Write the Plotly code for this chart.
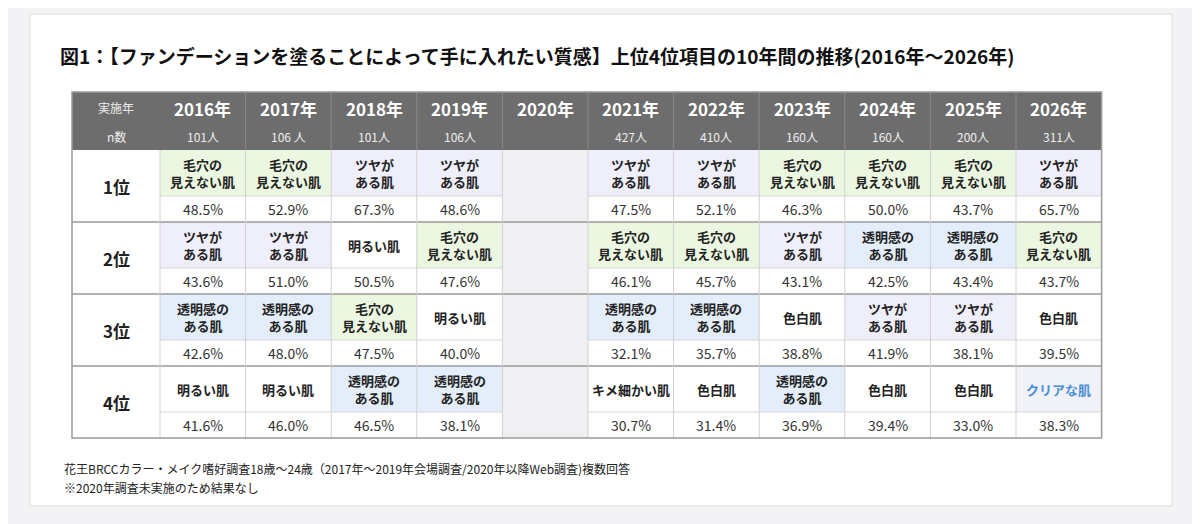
import plotly.graph_objects as go

FONT = "Noto Sans CJK JP"

years = ["2016年", "2017年", "2018年", "2019年", "2020年", "2021年",
         "2022年", "2023年", "2024年", "2025年", "2026年"]
n_counts = ["101人", "106 人", "101人", "106人", "", "427人",
            "410人", "160人", "160人", "200人", "311人"]
ranks = ["1位", "2位", "3位", "4位"]

# items per rank (None for 2020: no survey)
rank1_items = ["毛穴の<br>見えない肌", "毛穴の<br>見えない肌", "ツヤが<br>ある肌", "ツヤが<br>ある肌", None,
               "ツヤが<br>ある肌", "ツヤが<br>ある肌", "毛穴の<br>見えない肌", "毛穴の<br>見えない肌",
               "毛穴の<br>見えない肌", "ツヤが<br>ある肌"]
rank1_pct = ["48.5%", "52.9%", "67.3%", "48.6%", None, "47.5%", "52.1%", "46.3%", "50.0%", "43.7%", "65.7%"]
rank2_items = ["ツヤが<br>ある肌", "ツヤが<br>ある肌", "明るい肌", "毛穴の<br>見えない肌", None,
               "毛穴の<br>見えない肌", "毛穴の<br>見えない肌", "ツヤが<br>ある肌", "透明感の<br>ある肌",
               "透明感の<br>ある肌", "毛穴の<br>見えない肌"]
rank2_pct = ["43.6%", "51.0%", "50.5%", "47.6%", None, "46.1%", "45.7%", "43.1%", "42.5%", "43.4%", "43.7%"]
rank3_items = ["透明感の<br>ある肌", "透明感の<br>ある肌", "毛穴の<br>見えない肌", "明るい肌", None,
               "透明感の<br>ある肌", "透明感の<br>ある肌", "色白肌", "ツヤが<br>ある肌",
               "ツヤが<br>ある肌", "色白肌"]
rank3_pct = ["42.6%", "48.0%", "47.5%", "40.0%", None, "32.1%", "35.7%", "38.8%", "41.9%", "38.1%", "39.5%"]
rank4_items = ["明るい肌", "明るい肌", "透明感の<br>ある肌", "透明感の<br>ある肌", None,
               "キメ細かい肌", "色白肌", "透明感の<br>ある肌", "色白肌", "色白肌", "クリアな肌"]
rank4_pct = ["41.6%", "46.0%", "46.5%", "38.1%", None, "30.7%", "31.4%", "36.9%", "39.4%", "33.0%", "38.3%"]

items = [rank1_items, rank2_items, rank3_items, rank4_items]
pcts = [rank1_pct, rank2_pct, rank3_pct, rank4_pct]

# styling
FILL = {"毛穴": "#ebf7e1", "ツヤ": "#efeefb", "透明": "#e4eefb", "クリ": "#f1f1f8"}
HEAD = "#6d6d6d"
LINE = "#9a9a9a"

X0, LW, CW = 72, 88, 85.6
Y_HEAD, Y_N, Y_BODY = 92, 122, 150
RH, LH = 72, 46

fig = go.Figure()
shapes, ann = [], []


def rect(x0, y0, x1, y1, fill, line=None, lw=0):
    shapes.append(dict(type="rect", xref="x", yref="y", x0=x0, x1=x1, y0=y0, y1=y1,
                       fillcolor=fill, line=dict(color=line or fill, width=lw), layer="below"))


def text(x, y, s, size, color="#222", bold=False, xanchor="center"):
    ann.append(dict(x=x, y=y, xref="x", yref="y", text=f"<b>{s}</b>" if bold else s,
                    showarrow=False, xanchor=xanchor, yanchor="middle",
                    font=dict(family=FONT, size=size, color=color)))


# card
rect(30, 14, 1172, 506, "white", "#dddddd", 1)

ncols = len(years)
x_end = X0 + LW + CW * ncols
y_end = Y_BODY + RH * len(ranks)

# header
rect(X0, Y_HEAD, x_end, Y_BODY, HEAD)
text(X0 + LW / 2, (Y_HEAD + Y_N) / 2, "実施年", 12, "#eeeeee")
text(X0 + LW / 2, (Y_N + Y_BODY) / 2, "n数", 12, "#eeeeee")
for i, (yr, n) in enumerate(zip(years, n_counts)):
    cx = X0 + LW + CW * (i + 0.5)
    text(cx, (Y_HEAD + Y_N) / 2 + 1, yr, 17, "white", True)
    text(cx, (Y_N + Y_BODY) / 2, n, 12, "#eeeeee")
    if i > 0:
        shapes.append(dict(type="line", x0=X0 + LW + CW * i, x1=X0 + LW + CW * i,
                           y0=Y_HEAD, y1=Y_BODY, line=dict(color="#8a8a8a", width=1)))

# body
rect(X0, Y_BODY, x_end, y_end, "white")
for r, rk in enumerate(ranks):
    y0 = Y_BODY + RH * r
    text(X0 + LW / 2, y0 + RH / 2, rk, 17, "#222", True)
    for i in range(ncols):
        cx0 = X0 + LW + CW * i
        it = items[r][i]
        if it is None:
            rect(cx0, y0, cx0 + CW, y0 + RH, "#f0f0f2")
            continue
        fill = FILL.get(it[:2], "white")
        rect(cx0, y0, cx0 + CW, y0 + LH, fill)
        color = "#4b8fd6" if it.startswith("クリ") else "#222"
        text(cx0 + CW / 2, y0 + LH / 2, it, 13, color, True)
        text(cx0 + CW / 2, y0 + LH + (RH - LH) / 2, pcts[r][i], 14, "#333")
        shapes.append(dict(type="line", x0=cx0, x1=cx0 + CW, y0=y0 + LH, y1=y0 + LH,
                           line=dict(color="#d6d6d6", width=1)))
    if r > 0:
        shapes.append(dict(type="line", x0=X0, x1=x_end, y0=y0, y1=y0,
                           line=dict(color=LINE, width=1.5)))
for i in range(ncols + 1):
    xx = X0 + LW + CW * i
    shapes.append(dict(type="line", x0=xx, x1=xx, y0=Y_BODY, y1=y_end,
                       line=dict(color="#d0d0d0", width=1)))
shapes.append(dict(type="rect", x0=X0, x1=x_end, y0=Y_HEAD, y1=y_end,
                   line=dict(color=LINE, width=1.5)))

text(58, 55, "図1：【ファンデーションを塗ることによって手に入れたい質感】上位4位項目の10年間の推移(2016年～2026年)",
     19, "#111", True, "left")
text(62, 468, "花王BRCCカラー・メイク嗜好調査18歳～24歳（2017年～2019年会場調査/2020年以降Web調査)複数回答",
     12, "#222", False, "left")
text(62, 487, "※2020年調査未実施のため結果なし", 12, "#222", False, "left")

# page body has an 8px margin, so shift the coordinate frame to compensate
fig.update_layout(
    width=1200, height=524, margin=dict(l=0, r=0, t=0, b=0),
    paper_bgcolor="#f3f3f5", plot_bgcolor="#f3f3f5",
    xaxis=dict(range=[8, 1208], visible=False, fixedrange=True),
    yaxis=dict(range=[532, 8], visible=False, fixedrange=True),
    shapes=shapes, annotations=ann, showlegend=False,
)
fig.write_html("out.html")
